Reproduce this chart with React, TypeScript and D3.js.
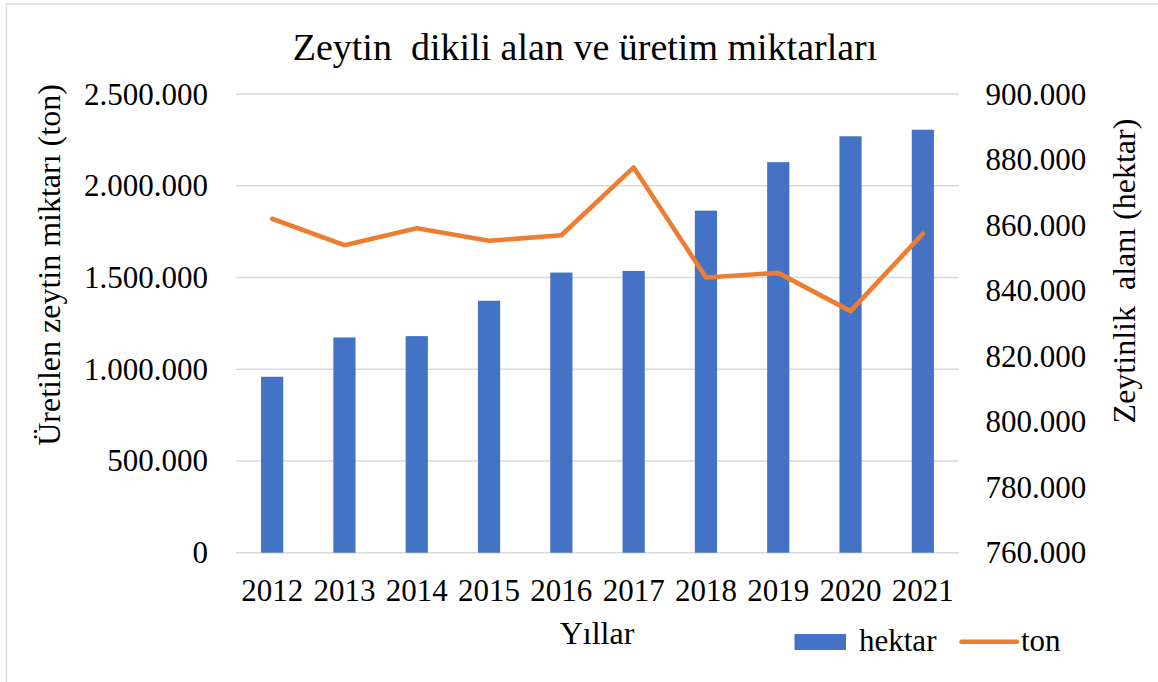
import React from "react";
import * as d3 from "d3";

const years = ["2012", "2013", "2014", "2015", "2016", "2017", "2018", "2019", "2020", "2021"];
const hektar = [813700, 825700, 826100, 836900, 845500, 846000, 864400, 879200, 887100, 889100];
const ton = [1820000, 1676000, 1768000, 1700000, 1730000, 2100000, 1500000, 1525000, 1316500, 1738700];
const leftTicks = [0, 500000, 1000000, 1500000, 2000000, 2500000];
const rightTicks = [760000, 780000, 800000, 820000, 840000, 860000, 880000, 900000];

const title = "Zeytin  dikili alan ve üretim miktarları";
const leftTitle = "Üretilen zeytin miktarı (ton)";
const rightTitle = "Zeytinlik  alanı (hektar)";
const xTitle = "Yıllar";
const legendBar = "hektar";
const legendLine = "ton";

const W = 1158;
const H = 682;
const plot = { left: 236, right: 959, top: 94, bottom: 552.7 };
const FONT = "'Liberation Serif', 'Times New Roman', serif";
const BLUE = "#4472C4";
const ORANGE = "#ED7D31";
const GRID = "#D9D9D9";

const fmt = (v: number) => {
  if (v === 0) return "0";
  return d3.format(",")(v).replace(/,/g, ".");
};

export default function App() {
  const x = d3
    .scaleBand<string>()
    .domain(years)
    .range([plot.left, plot.right])
    .paddingInner(0.693)
    .paddingOuter(0.3465);
  const yL = d3.scaleLinear().domain([0, 2500000]).range([plot.bottom, plot.top]);
  const yR = d3.scaleLinear().domain([760000, 900000]).range([plot.bottom, plot.top]);
  const cx = (y: string) => (x(y) as number) + x.bandwidth() / 2;

  const line = d3
    .line<number>()
    .x((_, i) => cx(years[i]))
    .y((d) => yL(d));

  return (
    <svg
      width={W}
      height={H}
      style={{ position: "absolute", left: 0, top: 0, background: "#fff" }}
      fontFamily={FONT}
    >
      <rect x={0} y={0} width={W} height={H} fill="#fff" />
      <rect x={6.5} y={4} width={1170} height={700} fill="none" stroke={GRID} strokeWidth={1.3} />

      <text x={585} y={59.5} fontSize={38} textAnchor="middle" fill="#000" style={{ whiteSpace: "pre" }}>
        {title}
      </text>

      {leftTicks.map((t) => (
        <line key={t} x1={plot.left} x2={plot.right} y1={yL(t)} y2={yL(t)} stroke={GRID} strokeWidth={1.4} />
      ))}

      {years.map((yr, i) => (
        <rect
          key={yr}
          x={x(yr)}
          y={yR(hektar[i])}
          width={x.bandwidth()}
          height={yR(760000) - yR(hektar[i])}
          fill={BLUE}
        />
      ))}

      <path
        d={line(ton) || ""}
        fill="none"
        stroke={ORANGE}
        strokeWidth={4.6}
        strokeLinejoin="round"
        strokeLinecap="round"
      />

      {leftTicks.map((t) => (
        <text key={t} x={208} y={yL(t) + 10.5} fontSize={31} textAnchor="end" fill="#000">
          {fmt(t)}
        </text>
      ))}
      {rightTicks.map((t) => (
        <text key={t} x={985.5} y={yR(t) + 10.5} fontSize={31} textAnchor="start" fill="#000">
          {fmt(t)}
        </text>
      ))}
      {years.map((yr) => (
        <text key={yr} x={cx(yr)} y={601} fontSize={31} textAnchor="middle" fill="#000">
          {yr}
        </text>
      ))}

      <text transform="translate(60,265) rotate(-90)" fontSize={32} textAnchor="middle" fill="#000" style={{ whiteSpace: "pre" }}>
        {leftTitle}
      </text>
      <text transform="translate(1135,271) rotate(-90)" fontSize={32} textAnchor="middle" fill="#000" style={{ whiteSpace: "pre" }}>
        {rightTitle}
      </text>
      <text x={597} y={644} fontSize={32} textAnchor="middle" fill="#000">
        {xTitle}
      </text>

      <rect x={794.5} y={634} width={51.5} height={16} fill={BLUE} />
      <text x={859} y={651} fontSize={31} fill="#000">
        {legendBar}
      </text>
      <line x1={961.5} x2={1016.8} y1={641.7} y2={641.7} stroke={ORANGE} strokeWidth={4.6} strokeLinecap="round" />
      <text x={1021} y={651} fontSize={31} fill="#000">
        {legendLine}
      </text>
    </svg>
  );
}
